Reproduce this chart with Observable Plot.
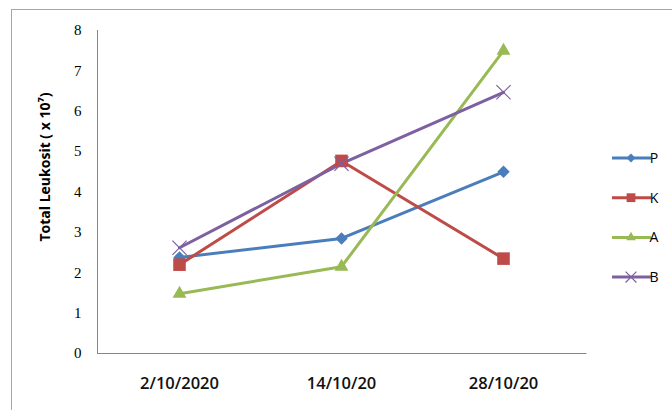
<!DOCTYPE html>
<html>
<head>
<meta charset="utf-8">
<script src="https://cdn.jsdelivr.net/npm/d3@7"></script>
<script src="https://cdn.jsdelivr.net/npm/@observablehq/plot@0.6"></script>
<style>
  html, body { margin: 0; padding: 0; background: #fff; }
  #wrap { position: relative; width: 672px; height: 410px; overflow: hidden; }
  #border { position: absolute; left: 11px; top: 9px; width: 700px; height: 420px; border: 1px solid #a6a6a6; box-sizing: border-box; }
  #chart { position: absolute; left: 0; top: 0; }
</style>
</head>
<body>
<div id="wrap"><div id="border"></div><div id="chart"></div></div>
<script>
const dates = ["2/10/2020", "14/10/20", "28/10/20"];
const seriesNames = ["P", "K", "A", "B"];
const P = [2.38, 2.85, 4.5];
const K = [2.2, 4.77, 2.35];
const A = [1.48, 2.15, 7.5];
const B = [2.62, 4.7, 6.47];
const yTicks = [0, 1, 2, 3, 4, 5, 6, 7, 8];
const yLabel = "Total Leukosit ( x 10⁷)";
const colors = ["#4A7EBB", "#BE4B48", "#98B954", "#7D60A0"];
const symbols = ["diamond2", "square2", "triangle2", "times"];
const markerR = [5.6, 8, 6.6, 6.5];
const legendR = [4, 5.6, 4.6, 5];

const values = [P, K, A, B];
const data = [];
seriesNames.forEach((s, i) => values[i].forEach((v, j) => data.push({series: s, date: dates[j], value: v})));

const dotMarks = seriesNames.map((s, i) => {
  const sub = data.filter(d => d.series === s);
  return symbols[i] === "times"
    ? Plot.dot(sub, {x: "date", y: "value", symbol: "series", stroke: "series", r: markerR[i], strokeWidth: 1.2})
    : Plot.dot(sub, {x: "date", y: "value", symbol: "series", fill: "series", r: markerR[i]});
});

const plot = Plot.plot({
  width: 672,
  height: 410,
  marginLeft: 97,
  marginRight: 86.5,
  marginTop: 30,
  marginBottom: 57,
  x: {type: "point", domain: dates, padding: 0.5},
  y: {domain: [0, 8], ticks: yTicks},
  color: {domain: seriesNames, range: colors},
  symbol: {domain: seriesNames, range: symbols},
  marks: [
    Plot.frame({anchor: "left", stroke: "#868686"}),
    Plot.frame({anchor: "bottom", stroke: "#868686"}),
    Plot.axisY({ticks: yTicks, tickSize: 0, tickPadding: 16, fontSize: 15, fontFamily: "Liberation Serif", fill: "#000", label: null}),
    Plot.axisX({tickSize: 0, tickPadding: 24, fontSize: 16.5, fontWeight: 600, fontFamily: "Open Sans", fill: "#111", label: null}),
    Plot.line(data, {x: "date", y: "value", z: "series", stroke: "series", strokeWidth: 3}),
    ...dotMarks
  ]
});
document.getElementById("chart").appendChild(plot);

const svg = d3.select(plot);
// y axis title
svg.append("text")
  .attr("transform", "translate(45,167) rotate(-90)")
  .attr("text-anchor", "middle").attr("dy", "0.35em")
  .attr("font-family", "Open Sans").attr("font-weight", "bold").attr("font-size", 14).attr("fill", "#000")
  .text(yLabel);

// legend
const symMap = {diamond2: d3.symbolDiamond2, square2: d3.symbolSquare2, triangle2: d3.symbolTriangle2, times: d3.symbolTimes};
const leg = svg.append("g").attr("aria-label", "legend");
const ly0 = 158, lstep = 39.7;
seriesNames.forEach((s, i) => {
  const g = leg.append("g").attr("transform", `translate(0,${ly0 + i * lstep})`);
  g.append("line").attr("x1", 612).attr("x2", 651).attr("y1", 0).attr("y2", 0).attr("stroke", colors[i]).attr("stroke-width", 3);
  const path = d3.symbol(symMap[symbols[i]], Math.PI * legendR[i] * legendR[i])();
  const p = g.append("path").attr("d", path).attr("transform", "translate(631,0)");
  if (symbols[i] === "times") p.attr("fill", "none").attr("stroke", colors[i]).attr("stroke-width", 1.2);
  else p.attr("fill", colors[i]);
  g.append("text").attr("x", 654).attr("y", 0).attr("dy", "0.36em").attr("font-family", "Open Sans").attr("font-size", 14).attr("fill", "#000").text(s);
});
</script>
</body>
</html>
